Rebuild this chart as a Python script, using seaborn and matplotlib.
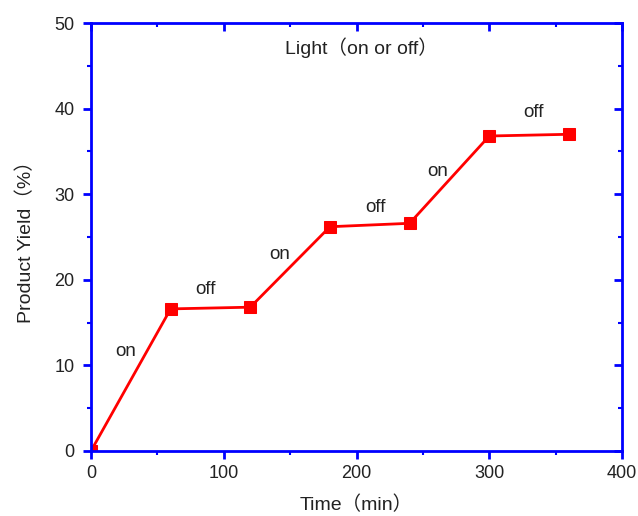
import matplotlib
matplotlib.use('Agg')
import matplotlib.pyplot as plt
import seaborn as sns
import pandas as pd
from matplotlib.ticker import MultipleLocator

# data
time_min = [0, 60, 120, 180, 240, 300, 360]
yield_pct = [0, 16.6, 16.8, 26.2, 26.6, 36.8, 37.0]
state_labels = ['on', 'off', 'on', 'off', 'on', 'off']
label_x = [26, 86, 142, 214, 261, 333]
label_y = [11.6, 18.9, 22.9, 28.4, 32.6, 39.5]

df = pd.DataFrame({'Time': time_min, 'Yield': yield_pct})

sns.set_style('ticks')
plt.rcParams['font.family'] = ['Liberation Sans', 'Noto Sans CJK SC']

blue = '#0000ff'
txt = '#222222'

fig = plt.figure(figsize=(6.38, 5.16), dpi=100)
ax = fig.add_axes([0.1426, 0.126, 0.8324, 0.8294])

sns.lineplot(data=df, x='Time', y='Yield', ax=ax, color='#ff0000', lw=2,
             marker='s', markersize=9, markeredgecolor='#ff0000')

ax.set_xlim(0, 400)
ax.set_ylim(0, 50)
ax.xaxis.set_major_locator(MultipleLocator(100))
ax.xaxis.set_minor_locator(MultipleLocator(50))
ax.yaxis.set_major_locator(MultipleLocator(10))
ax.yaxis.set_minor_locator(MultipleLocator(5))

for sp in ax.spines.values():
    sp.set_color(blue)
    sp.set_linewidth(2)
    sp.set_visible(True)

ax.tick_params(which='major', direction='out', length=6, width=2, color=blue,
               labelsize=13, labelcolor=txt)
ax.tick_params(axis='y', which='major', pad=6)
ax.tick_params(axis='x', which='major', pad=4)
ax.tick_params(which='minor', direction='out', length=3, width=1.5, color=blue)

# inward ticks on top and right
top = ax.secondary_xaxis('top')
top.xaxis.set_major_locator(MultipleLocator(100))
top.xaxis.set_minor_locator(MultipleLocator(50))
top.tick_params(which='major', direction='in', length=6, width=2, color=blue, labeltop=False)
top.tick_params(which='minor', direction='in', length=3, width=1.5, color=blue)
top.spines['top'].set_visible(False)
right = ax.secondary_yaxis('right')
right.yaxis.set_major_locator(MultipleLocator(10))
right.yaxis.set_minor_locator(MultipleLocator(5))
right.tick_params(which='major', direction='in', length=6, width=2, color=blue, labelright=False)
right.tick_params(which='minor', direction='in', length=3, width=1.5, color=blue)
right.spines['right'].set_visible(False)

ax.set_xlabel('Time（min）', fontsize=14, color=txt, labelpad=10)
ax.set_ylabel('Product Yield（%）', fontsize=14, color=txt, labelpad=14)

ax.text(204, 47.1, 'Light（on or off）', ha='center', va='center', fontsize=14, color=txt)
for lx, ly, s in zip(label_x, label_y, state_labels):
    ax.text(lx, ly, s, ha='center', va='center', fontsize=13.5, color=txt)

fig.savefig('out.png', dpi=100)
